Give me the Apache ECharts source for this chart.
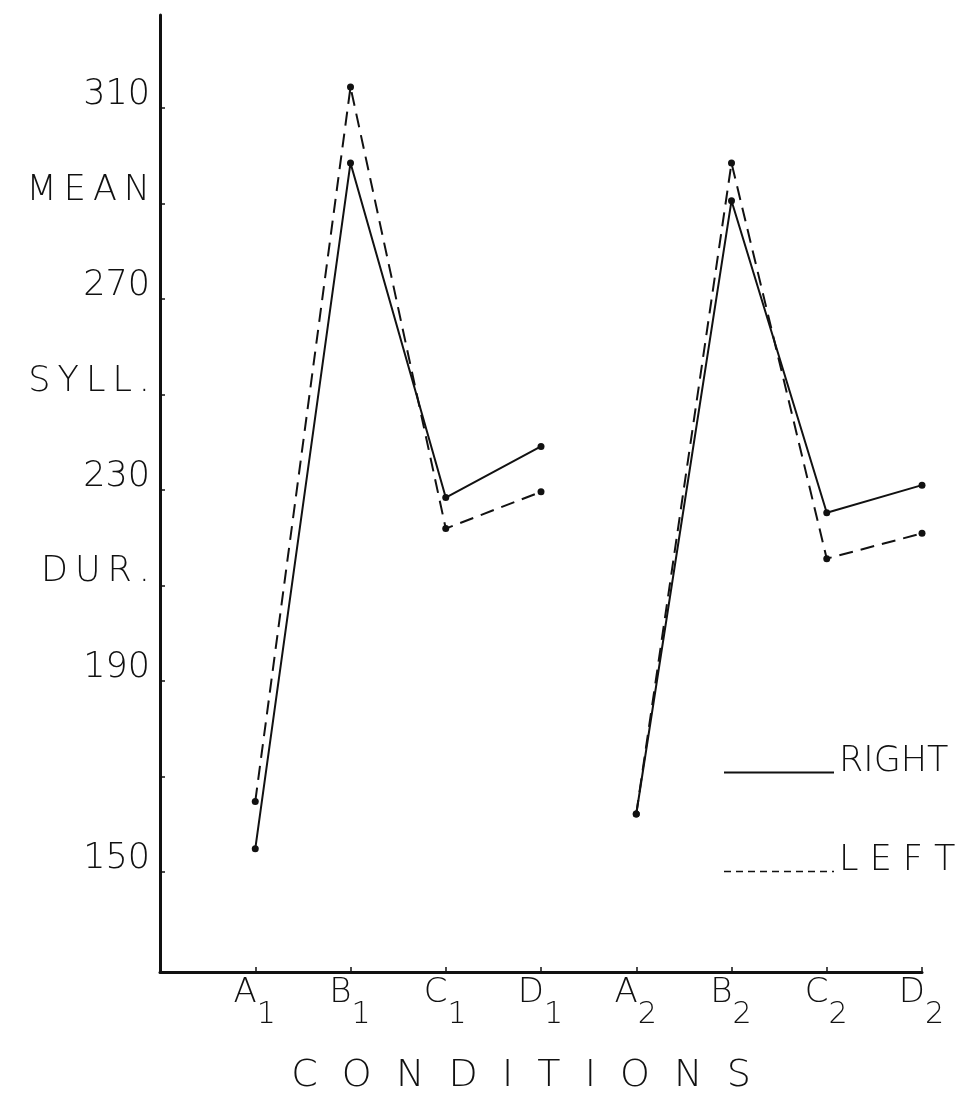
<!DOCTYPE html>
<html>
<head>
<meta charset="utf-8">
<title>Mean syllable duration by condition</title>
<script src="https://cdn.jsdelivr.net/npm/echarts@6/dist/echarts.min.js"></script>
<style>
  html, body { margin: 0; padding: 0; background: #fff; }
  #chart { width: 972px; height: 1096px; }
</style>
</head>
<body>
<div id="chart"></div>
<script>
// Conditions along the x axis (letter + subscript digit)
const categories = ['A1', 'B1', 'C1', 'D1', 'A2', 'B2', 'C2', 'D2'];

// Mean syllable duration per condition
const rightValues = [154.8, 298.5, 228.4, 239.1, 162.1, 290.6, 225.2, 231.0];
const leftValues  = [164.7, 314.4, 221.9, 229.6, 162.1, 298.5, 215.6, 220.9];

// Y-axis ticks and their labels (words interleaved with numbers)
const yTickValues = [150, 170, 190, 210, 230, 250, 270, 290, 310];
const yTickLabels = ['150', '', '190', 'DUR.', '230', 'SYLL.', '270', 'MEAN', '310'];

const FONT = '"DejaVu Sans", sans-serif';
const INK = '#111';

const chart = echarts.init(document.getElementById('chart'), null, { renderer: 'canvas' });

// Each series is drawn as two separate runs of four conditions
function runs(values, name, lineStyle) {
  const out = [];
  for (let g = 0; g < 2; g++) {
    out.push({
      name: name,
      type: 'line',
      data: values.slice(g * 4, g * 4 + 4).map((v, i) => [g * 4 + i + 1, v]),
      symbol: 'circle',
      symbolSize: 7,
      itemStyle: { color: INK },
      lineStyle: lineStyle,
      animation: false,
      z: name === 'RIGHT' ? 3 : 2
    });
  }
  return out;
}

const spaced = s => s.split('').join('\u2009');

chart.setOption({
  animation: false,
  backgroundColor: '#fff',
  grid: { left: 160, right: 50, top: 15, bottom: 124, containLabel: false, outerBoundsMode: 'none' },
  xAxis: {
    type: 'value',
    min: 0,
    max: 8,
    interval: 1,
    splitLine: { show: false },
    axisLine: { show: true, onZero: false, lineStyle: { color: INK, width: 3 } },
    axisTick: { show: true, inside: true, length: 5, customValues: categories.map((c, i) => i + 1), lineStyle: { color: INK, width: 1.5 } },
    axisLabel: {
      customValues: categories.map((c, i) => i + 1),
      margin: 4,
      formatter: v => {
        const c = categories[Math.round(v) - 1];
        return c ? '{m|' + c[0] + '}{s|' + c.slice(1) + '}{z| }' : '';
      },
      rich: {
        m: { fontFamily: FONT, fontWeight: 200, fontSize: 34, color: INK, lineHeight: 30, verticalAlign: 'top' },
        s: { fontFamily: FONT, fontWeight: 200, fontSize: 30, color: INK, lineHeight: 30, verticalAlign: 'bottom' },
        z: { fontSize: 4, lineHeight: 54, width: 1 }
      }
    },
    name: 'C  O  N  D  I  T  I  O  N  S',
    nameLocation: 'middle',
    nameGap: 85,
    nameTextStyle: { fontFamily: FONT, fontWeight: 200, fontSize: 38, color: INK, padding: [0, 40, 0, 0] }
  },
  yAxis: {
    type: 'value',
    min: 129,
    max: 329.5,
    splitLine: { show: false },
    axisLine: { show: true, onZero: false, lineStyle: { color: INK, width: 3 } },
    axisTick: { show: true, inside: true, length: 5, customValues: yTickValues, lineStyle: { color: INK, width: 1.5 } },
    axisLabel: {
      customValues: yTickValues,
      margin: 10,
      fontFamily: FONT,
      fontWeight: 200,
      fontSize: 35,
      color: INK,
      verticalAlign: 'bottom',
      lineHeight: 26,
      formatter: v => {
        const t = yTickLabels[yTickValues.indexOf(Math.round(v))] || '';
        return /^\d+$/.test(t) ? t : spaced(t);
      }
    }
  },
  legend: {
    orient: 'vertical',
    left: 718,
    top: 739,
    itemWidth: 110,
    itemHeight: 4,
    itemGap: 42,
    itemStyle: { opacity: 0 },
    // an empty second line lifts the word so the key line sits at its foot
    textStyle: { fontFamily: FONT, fontWeight: 200, fontSize: 35, color: INK, lineHeight: 22 },
    formatter: name => (name === 'LEFT' ? name.split('').join(' ') : name) + '\n ',
    data: [
      { name: 'RIGHT', lineStyle: { color: INK, width: 2, type: 'solid' } },
      { name: 'LEFT', lineStyle: { color: INK, width: 1.5, type: [7, 5] } }
    ]
  },
  series: [
    ...runs(rightValues, 'RIGHT', { color: INK, width: 2, type: 'solid' }),
    ...runs(leftValues, 'LEFT', { color: INK, width: 2, type: [14, 8] })
  ]
});
</script>
</body>
</html>
